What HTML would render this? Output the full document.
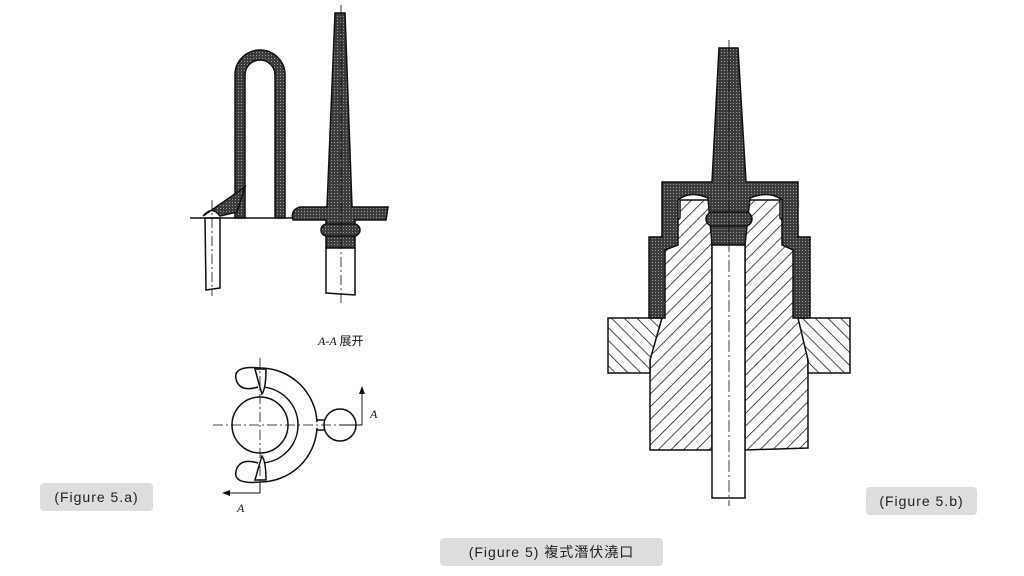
<!DOCTYPE html>
<html><head><meta charset="utf-8"><style>
html,body{margin:0;padding:0;background:#fff;width:1024px;height:576px;overflow:hidden}
.pill{position:absolute;background:#ddd;border-radius:4px;font-family:"Liberation Sans","Noto Sans CJK SC",sans-serif;font-size:14px;color:#222;letter-spacing:1px;text-align:center;line-height:28px}
svg{position:absolute;left:0;top:0}
</style></head><body>
<svg width="1024" height="576" viewBox="0 0 1024 576">
<defs>
<pattern id="dots" width="3" height="3" patternUnits="userSpaceOnUse">
<rect width="3" height="3" fill="#3a3a3a"/><circle cx="1.5" cy="1.5" r="0.6" fill="#999"/>
</pattern>
<pattern id="hatch" width="9" height="9" patternUnits="userSpaceOnUse" patternTransform="rotate(45)">
<rect width="9" height="9" fill="#fff"/><line x1="0" y1="0" x2="0" y2="9" stroke="#222" stroke-width="1.6"/>
</pattern>
<pattern id="hatch2" width="9" height="9" patternUnits="userSpaceOnUse" patternTransform="rotate(-45)">
<rect width="9" height="9" fill="#fff"/><line x1="0" y1="0" x2="0" y2="9" stroke="#222" stroke-width="1.6"/>
</pattern>
</defs>
<g stroke="#111" stroke-width="1.5">
<!-- left figure -->
<path d="M235 218 V75 A25 25 0 0 1 285 75 V218 H275 V75 A15 15 0 0 0 245 75 V218 Z" fill="url(#dots)"/>
<path d="M335 13 L345 13 L352 207 L388 207 L386 220 L355 220 L355 248 L326 248 L326 220 L293 220 Q290 210 300 207 L327 207 Z" fill="url(#dots)"/>
<rect x="321" y="224" width="39" height="12" rx="6" fill="url(#dots)"/>
<path d="M326 248 H355 V295 L326 293 Z" fill="#fff"/>
<path d="M203 216 L245 187 L237 212 L220 216 Q212 205 203 216 Z" fill="url(#dots)"/>
<path d="M205 218 H220 V288 L206 290 Z" fill="#fff"/>
<line x1="190" y1="218" x2="292" y2="218"/>
<line x1="341" y1="5" x2="341" y2="305" stroke-width="0.8" stroke-dasharray="10 3 2 3"/>
<line x1="212" y1="200" x2="212" y2="296" stroke-width="0.8" stroke-dasharray="10 3 2 3"/>
<!-- ring view -->
<g fill="none">
<circle cx="260" cy="425" r="28"/>
<circle cx="340" cy="425" r="16"/>
<path d="M260 387 A38 38 0 0 1 260 463"/>
<path d="M260 368 A57 57 0 0 1 317 422"/>
<path d="M317 428 A57 57 0 0 1 260 482"/>
<path d="M260 368 Q230 365 237 382 Q242 392 258 387"/>
<path d="M260 482 Q230 485 237 468 Q242 458 258 463"/>
<path d="M255 369 Q260 388 262 394 Q266 388 266 369Z" fill="#fff"/>
<path d="M255 480 Q260 462 262 456 Q266 462 266 480Z" fill="#fff"/>
<path d="M317 420 H325 M317 430 H325"/>
<line x1="213" y1="425" x2="362" y2="425" stroke-width="0.8" stroke-dasharray="10 3 2 3"/>
<line x1="260" y1="358" x2="260" y2="493" stroke-width="0.8" stroke-dasharray="10 3 2 3"/>
<polyline points="260,482 260,493 224,493" stroke-width="1"/>
<polyline points="340,425 362,425 362,390" stroke-width="1"/>
</g>
<path d="M222 493 L230 490 L230 496Z M362 386 L359 394 L365 394Z" fill="#111" stroke="none"/>
<!-- right figure -->
<path d="M650 450 L650 360 L660 320 L660 238 L680 218 L680 200 L780 200 L780 218 L800 238 L800 320 L808 360 L808 448 L745 450 L745 245 L712 245 L712 450 Z" fill="url(#hatch)"/>
<path d="M608 318 H662 L650 360 V373 H608 Z" fill="url(#hatch2)"/>
<path d="M850 318 H798 L808 360 V373 H850 Z" fill="url(#hatch2)"/>
<path d="M719 48 L738 48 L746 182 L798 182 L798 237 L810 237 L810 318 L793 318 L793 250 L782 245 L782 200 Q770 190 750 198 L745 245 L712 245 L708 198 Q690 190 678 200 L678 245 L665 250 L665 318 L649 318 L649 237 L662 237 L662 182 L712 182 Z" fill="url(#dots)"/>
<rect x="706" y="212" width="46" height="14" rx="7" fill="url(#dots)"/>
<path d="M712 245 H745 V498 H712 Z" fill="#fff"/>
<line x1="729" y1="40" x2="729" y2="506" stroke-width="0.8" stroke-dasharray="12 3 2 3"/>
</g>
<text x="318" y="345" font-family="Liberation Serif,Noto Serif CJK SC,serif" font-style="italic" font-size="12" fill="#111">A-A <tspan font-style="normal" font-family="Noto Sans CJK SC,sans-serif">展开</tspan></text>
<text x="370" y="418" font-family="Liberation Serif,serif" font-style="italic" font-size="12" fill="#111">A</text>
<text x="237" y="512" font-family="Liberation Serif,serif" font-style="italic" font-size="12" fill="#111">A</text>
</svg>
<div class="pill" style="left:40px;top:483px;width:113px">(Figure 5.a)</div>
<div class="pill" style="left:866px;top:487px;width:111px">(Figure 5.b)</div>
<div class="pill" style="left:440px;top:538px;width:223px">(Figure 5) 複式潛伏澆口</div>
</body></html>
